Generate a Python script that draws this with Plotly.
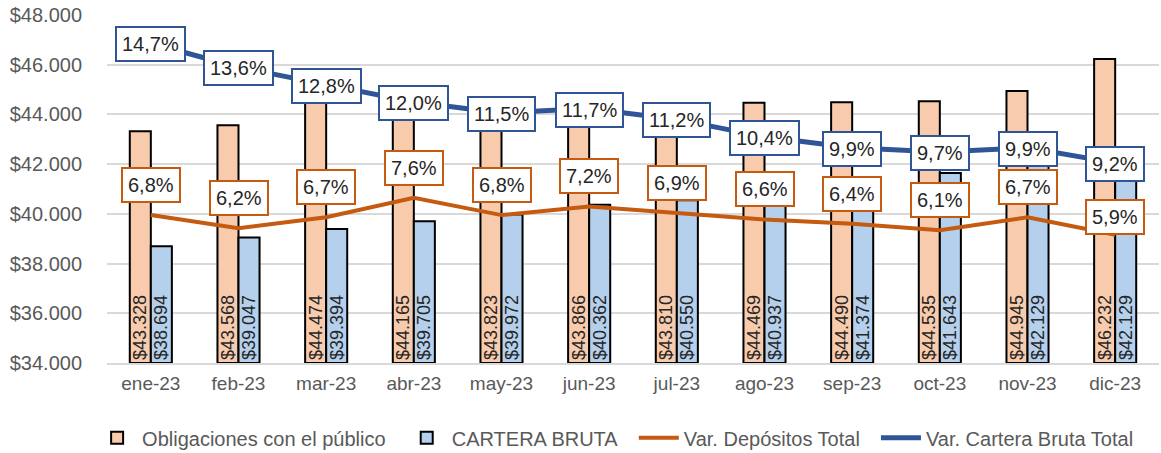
import plotly.graph_objects as go

months = ["ene-23", "feb-23", "mar-23", "abr-23", "may-23", "jun-23",
          "jul-23", "ago-23", "sep-23", "oct-23", "nov-23", "dic-23"]
obligaciones = [43328, 43568, 44474, 44165, 43823, 43866, 43810, 44469, 44490, 44535, 44945, 46232]
cartera = [38694, 39047, 39394, 39705, 39972, 40362, 40550, 40937, 41374, 41643, 42129, 42129]
var_depositos = [6.8, 6.2, 6.7, 7.6, 6.8, 7.2, 6.9, 6.6, 6.4, 6.1, 6.7, 5.9]
var_cartera = [14.7, 13.6, 12.8, 12.0, 11.5, 11.7, 11.2, 10.4, 9.9, 9.7, 9.9, 9.2]

AXIS_MIN = 34000
AXIS_MAX = 48000

FONT = "Liberation Sans"
ORANGE_FILL = "#F8CBAD"
BLUE_FILL = "#B4D0EC"
ORANGE_LINE = "#C55A11"
BLUE_LINE = "#2F5597"
PAD = "\u00a0" * 2  # extra spacing between legend entries

fig = go.Figure()
for name, vals, fill in [("Obligaciones con el público", obligaciones, ORANGE_FILL),
                         ("CARTERA BRUTA", cartera, BLUE_FILL)]:
    fig.add_trace(go.Bar(
        x=months, y=[v - AXIS_MIN for v in vals], base=AXIS_MIN, name=name + PAD,
        customdata=vals,
        marker=dict(color=fill, line=dict(color="black", width=2)),
        texttemplate="$%{customdata:,.0f}", textposition="inside",
        insidetextanchor="start", textangle=-90, constraintext="none",
        insidetextfont=dict(family=FONT, size=18, color="#262626"),
        hovertemplate="%{x}: $%{customdata:,.0f}<extra></extra>",
    ))
fig.add_trace(go.Scatter(
    x=months, y=var_depositos, name="Var. Depósitos Total" + PAD, yaxis="y2",
    mode="lines", line=dict(color=ORANGE_LINE, width=4),
))
fig.add_trace(go.Scatter(
    x=months, y=var_cartera, name="Var. Cartera Bruta Total", yaxis="y2",
    mode="lines", line=dict(color=BLUE_LINE, width=5),
))

def pct(v):
    return f"{v:.1f}".replace(".", ",") + "%"

annotations = []
for i, (m, v) in enumerate(zip(months, var_depositos)):
    annotations.append(dict(
        x=m, y=v, xref="x", yref="y2", text=pct(v), showarrow=False,
        yshift=18 if i == len(months) - 1 else 30,
        font=dict(family=FONT, size=20, color="#262626"),
        bgcolor="white", bordercolor=ORANGE_LINE, borderwidth=2, borderpad=5,
    ))
for m, v in zip(months, var_cartera):
    annotations.append(dict(
        x=m, y=v, xref="x", yref="y2", text=pct(v), showarrow=False,
        yshift=-1,
        font=dict(family=FONT, size=20, color="#262626"),
        bgcolor="white", bordercolor=BLUE_LINE, borderwidth=2, borderpad=5,
    ))

fig.update_layout(
    width=1161, height=453,
    margin=dict(l=107, r=2, t=15, b=90, autoexpand=False),
    paper_bgcolor="white", plot_bgcolor="white",
    separators=",.",
    barmode="group", bargap=0.52, bargroupgap=0,
    font=dict(family=FONT, size=19, color="#595959"),
    xaxis=dict(showgrid=False, showline=True, linecolor="#D9D9D9", linewidth=2,
               ticks="", ticklabelstandoff=2, automargin=False,
               tickfont=dict(family=FONT, size=19, color="#595959")),
    yaxis=dict(range=[AXIS_MIN, AXIS_MAX], dtick=2000, tickprefix="$", tickformat=",d",
               showgrid=True, gridcolor="#D9D9D9", gridwidth=2, zeroline=False,
               ticks="", ticklabelstandoff=24, automargin=False,
               ticklabeloverflow="allow",
               tickfont=dict(family=FONT, size=20, color="#595959")),
    yaxis2=dict(range=[0, 16], overlaying="y", side="right", visible=False,
                showgrid=False, zeroline=False, automargin=False),
    legend=dict(orientation="h", x=0.483, xanchor="center", y=-0.215, yanchor="middle",
                font=dict(family=FONT, size=20, color="#595959"),
                traceorder="normal", itemwidth=40),
    annotations=annotations,
    showlegend=True,
)

fig.write_html("out.html", post_script="document.body.style.margin='0';",
               config={"displayModeBar": False})
